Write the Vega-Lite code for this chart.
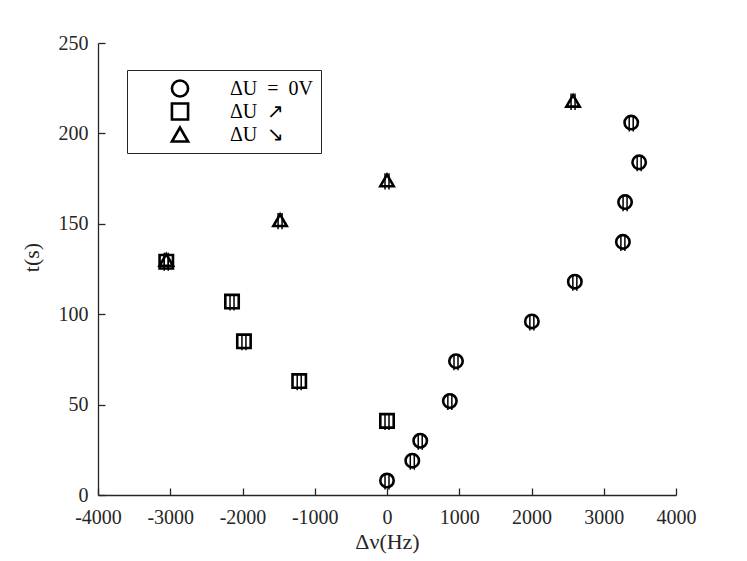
{
  "$schema": "https://vega.github.io/schema/vega-lite/v6.json",
  "width": 578,
  "height": 452,
  "autosize": "none",
  "padding": {"left": 98, "top": 43, "right": 71, "bottom": 66},
  "config": {
    "font": "Liberation Serif",
    "view": {"stroke": null},
    "axis": {
      "grid": false,
      "domainColor": "#262626",
      "tickColor": "#262626",
      "labelColor": "#262626",
      "titleColor": "#262626",
      "labelFontSize": 20,
      "titleFontSize": 22,
      "titleFontWeight": "normal",
      "tickWidth": 1.3,
      "domainWidth": 1.3,
      "labelFlush": false,
      "labelOverlap": false
    }
  },
  "resolve": {"axis": {"x": "independent", "y": "independent"}},
  "data": {
    "values": [
      {"s": "ΔU\u2002=\u20020V", "nu": 0, "t": 8, "lo": 3, "hi": 12},
      {"s": "ΔU\u2002=\u20020V", "nu": 350, "t": 19, "lo": 14, "hi": 23},
      {"s": "ΔU\u2002=\u20020V", "nu": 460, "t": 30, "lo": 25, "hi": 34},
      {"s": "ΔU\u2002=\u20020V", "nu": 870, "t": 52, "lo": 47, "hi": 56},
      {"s": "ΔU\u2002=\u20020V", "nu": 955, "t": 74, "lo": 69, "hi": 78},
      {"s": "ΔU\u2002=\u20020V", "nu": 2005, "t": 96, "lo": 91, "hi": 100},
      {"s": "ΔU\u2002=\u20020V", "nu": 2600, "t": 118, "lo": 113, "hi": 122},
      {"s": "ΔU\u2002=\u20020V", "nu": 3265, "t": 140, "lo": 135, "hi": 144},
      {"s": "ΔU\u2002=\u20020V", "nu": 3295, "t": 162, "lo": 157, "hi": 166},
      {"s": "ΔU\u2002=\u20020V", "nu": 3490, "t": 184, "lo": 179, "hi": 188},
      {"s": "ΔU\u2002=\u20020V", "nu": 3380, "t": 206, "lo": 201, "hi": 210},
      {"s": "ΔU\u2002↗", "nu": 0, "t": 41, "lo": 36, "hi": 45},
      {"s": "ΔU\u2002↗", "nu": -1215, "t": 63, "lo": 58, "hi": 67},
      {"s": "ΔU\u2002↗", "nu": -1980, "t": 85, "lo": 80, "hi": 89},
      {"s": "ΔU\u2002↗", "nu": -2145, "t": 107, "lo": 102, "hi": 111},
      {"s": "ΔU\u2002↗", "nu": -3055, "t": 129, "lo": 124, "hi": 133},
      {"s": "ΔU\u2002↘", "nu": -3055, "t": 130, "lo": 125, "hi": 134},
      {"s": "ΔU\u2002↘", "nu": -1480, "t": 152, "lo": 147, "hi": 156},
      {"s": "ΔU\u2002↘", "nu": 0, "t": 174, "lo": 169, "hi": 178},
      {"s": "ΔU\u2002↘", "nu": 2575, "t": 218, "lo": 213, "hi": 222}
    ]
  },
  "layer": [
    {
      "mark": {"type": "rule", "color": "black", "strokeWidth": 1.5, "xOffset": -2},
      "encoding": {
        "x": {
          "field": "nu", "type": "quantitative",
          "scale": {"domain": [-4000, 4000], "nice": false, "zero": false},
          "axis": {"orient": "bottom", "values": [-4000, -3000, -2000, -1000, 0, 1000, 2000, 3000, 4000], "labelExpr": "toString(datum.value)", "ticks": false, "labelPadding": 12, "title": "Δν(Hz)", "titlePadding": 4}
        },
        "y": {
          "field": "lo", "type": "quantitative",
          "scale": {"domain": [0, 250], "nice": false},
          "axis": {"orient": "left", "values": [0, 50, 100, 150, 200, 250], "ticks": false, "labelPadding": 10, "title": "t(s)", "titleX": -55, "titleY": 214}
        },
        "y2": {"field": "hi"}
      }
    },
    {
      "mark": {"type": "rule", "color": "black", "strokeWidth": 1.5, "xOffset": 2},
      "encoding": {
        "x": {
          "field": "nu", "type": "quantitative",
          "axis": {"orient": "top", "offset": -452, "values": [-4000, -3000, -2000, -1000, 0, 1000, 2000, 3000, 4000], "labels": false, "domain": false, "ticks": true, "tickSize": 7, "title": null}
        },
        "y": {
          "field": "lo", "type": "quantitative",
          "axis": {"orient": "right", "offset": -578, "values": [0, 50, 100, 150, 200, 250], "labels": false, "domain": false, "ticks": true, "tickSize": 7, "title": null}
        },
        "y2": {"field": "hi"}
      }
    },
    {
      "mark": {"type": "point", "filled": false, "color": "black", "strokeWidth": 2.6, "size": 180, "opacity": 1},
      "encoding": {
        "x": {"field": "nu", "type": "quantitative", "axis": null},
        "y": {"field": "t", "type": "quantitative", "axis": null},
        "shape": {
          "field": "s", "type": "nominal",
          "scale": {"domain": ["ΔU\u2002=\u20020V", "ΔU\u2002↗", "ΔU\u2002↘"], "range": ["circle", "square", "triangle-up"]},
          "legend": {
            "orient": "none", "legendX": 29, "legendY": 27,
            "title": null,
            "strokeColor": "#262626",
            "fillColor": "white",
            "padding": 7,
            "symbolOffset": 36,
            "labelOffset": 40,
            "labelFontSize": 20,
            "labelColor": "black",
            "rowPadding": 0,
            "clipHeight": 23,
            "symbolSize": 260,
            "symbolStrokeWidth": 2.6,
            "symbolStrokeColor": "black"
          }
        }
      }
    }
  ]
}
